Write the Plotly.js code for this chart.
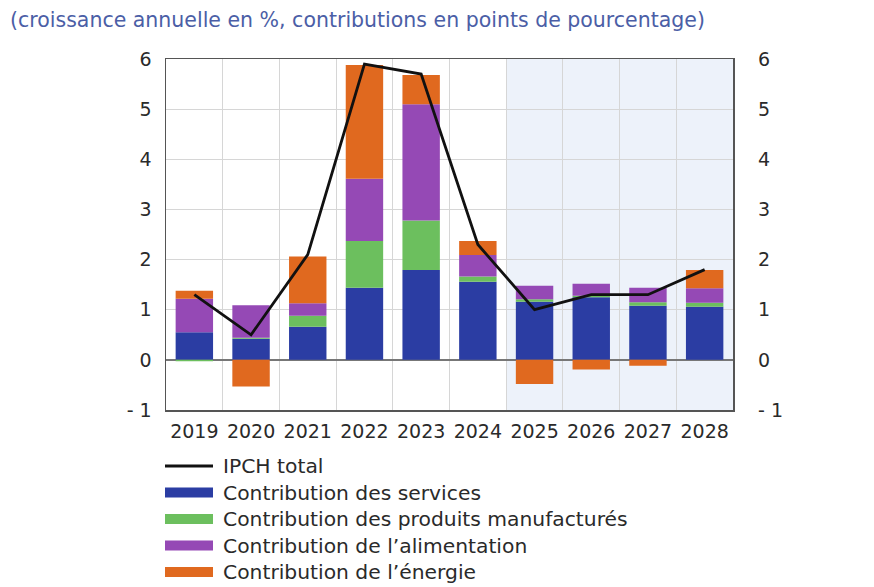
<!DOCTYPE html>
<html>
<head>
<meta charset="utf-8">
<script src="https://cdn.plot.ly/plotly-3.0.1.min.js"></script>
<style>html,body{margin:0;padding:0;background:#fff;}#chart{width:874px;height:587px;}</style>
</head>
<body>
<div id="chart"></div>
<script>
const years = ['2019','2020','2021','2022','2023','2024','2025','2026','2027','2028'];
const services = [0.55, 0.42, 0.66, 1.44, 1.79, 1.56, 1.16, 1.25, 1.08, 1.06];
const manufactures = [-0.03, 0.02, 0.22, 0.93, 0.99, 0.10, 0.05, 0.03, 0.07, 0.08];
const alimentation = [0.67, 0.65, 0.25, 1.24, 2.32, 0.43, 0.27, 0.24, 0.29, 0.29];
const energie = [0.16, -0.53, 0.93, 2.27, 0.58, 0.28, -0.48, -0.19, -0.12, 0.36];
const ipchTotal = [1.3, 0.5, 2.1, 5.9, 5.7, 2.3, 1.0, 1.3, 1.3, 1.8];
const tickVals = [-1, 0, 1, 2, 3, 4, 5, 6];
const tickText = ['- 1', '0', '1', '2', '3', '4', '5', '6'];
const legendNames = ['IPCH total', 'Contribution des services', 'Contribution des produits manufacturés', "Contribution de l’alimentation", "Contribution de l’énergie"];
const titleText = '(croissance annuelle en %, contributions en points de pourcentage)';

const C_SERV = '#2B3DA3', C_MANU = '#6CBF5E', C_ALIM = '#9549B5', C_ENER = '#E0691F', C_LINE = '#111111';
const legendColors = [C_LINE, C_SERV, C_MANU, C_ALIM, C_ENER];

const W = 874, H = 587;
const M = {l: 166, r: 141, t: 59, b: 177};
const pw = W - M.l - M.r, ph = H - M.t - M.b;
const px = x => (x - M.l) / pw;
const py = y => (H - M.b - y) / ph;

const FONT = 'DejaVu Sans, Verdana, sans-serif';
const TXT = '#2a2a2a';

function bar(name, vals, color) {
  return {type: 'bar', name: name, x: years, y: vals, marker: {color: color, line: {width: 0}}, showlegend: false, hoverinfo: 'y'};
}
const data = [
  bar(legendNames[1], services, C_SERV),
  bar(legendNames[2], manufactures, C_MANU),
  bar(legendNames[3], alimentation, C_ALIM),
  bar(legendNames[4], energie, C_ENER),
  {type: 'scatter', mode: 'lines', name: legendNames[0], x: years, y: ipchTotal, yaxis: 'y2',
   line: {color: C_LINE, width: 2.8}, showlegend: false}
];

const shapes = [
  {type: 'rect', xref: 'x', yref: 'paper', x0: 5.5, x1: 9.5, y0: 0, y1: 1, fillcolor: '#EDF2FA', line: {width: 0}, layer: 'below'}
];
const annotations = [];
const rowY0 = 466, rowStep = 26.5;
legendNames.forEach((n, i) => {
  const yc = rowY0 + i * rowStep;
  if (i === 0) {
    shapes.push({type: 'line', xref: 'paper', yref: 'paper', x0: px(165), x1: px(213), y0: py(yc), y1: py(yc), line: {color: C_LINE, width: 3}});
  } else {
    shapes.push({type: 'rect', xref: 'paper', yref: 'paper', x0: px(165), x1: px(213), y0: py(yc - 5), y1: py(yc + 5), fillcolor: legendColors[i], line: {width: 0}});
  }
  annotations.push({xref: 'paper', yref: 'paper', x: px(221), y: py(yc), xanchor: 'left', yanchor: 'middle', showarrow: false,
    text: n, font: {family: FONT, size: 20.3, color: TXT}});
});

const layout = {
  width: W, height: H,
  margin: M,
  paper_bgcolor: '#ffffff', plot_bgcolor: 'rgba(0,0,0,0)',
  barmode: 'relative', bargap: 0.34,
  showlegend: false,
  title: {text: titleText, x: 10 / W, xanchor: 'left', xref: 'container', y: 1 - 20 / H, yanchor: 'middle', yref: 'container',
    font: {family: FONT, size: 20.5, color: '#4B5EA6'}},
  xaxis: {type: 'category', tickson: 'boundaries', showgrid: true, gridcolor: '#D6D6D6', gridwidth: 1,
    ticks: '', ticklabelstandoff: 4, showline: true, linecolor: '#555555', linewidth: 1.5, mirror: true,
    tickfont: {family: FONT, size: 19, color: TXT}, range: [-0.5, 9.5]},
  yaxis: {range: [-1, 6], tickvals: tickVals, ticktext: tickText, showgrid: true, gridcolor: '#D6D6D6', gridwidth: 1,
    zeroline: true, zerolinecolor: '#777777', zerolinewidth: 1.5,
    ticks: '', ticklabelstandoff: 9, showline: true, linecolor: '#555555', linewidth: 1.5, mirror: true,
    tickfont: {family: FONT, size: 19, color: TXT}},
  yaxis2: {overlaying: 'y', side: 'right', range: [-1, 6], tickvals: tickVals, ticktext: tickText, showgrid: false, zeroline: false,
    ticks: '', ticklabelstandoff: 24, showline: false,
    tickfont: {family: FONT, size: 19, color: TXT}},
  shapes: shapes,
  annotations: annotations
};

Plotly.newPlot('chart', data, layout, {displayModeBar: false, staticPlot: true});
</script>
</body>
</html>
